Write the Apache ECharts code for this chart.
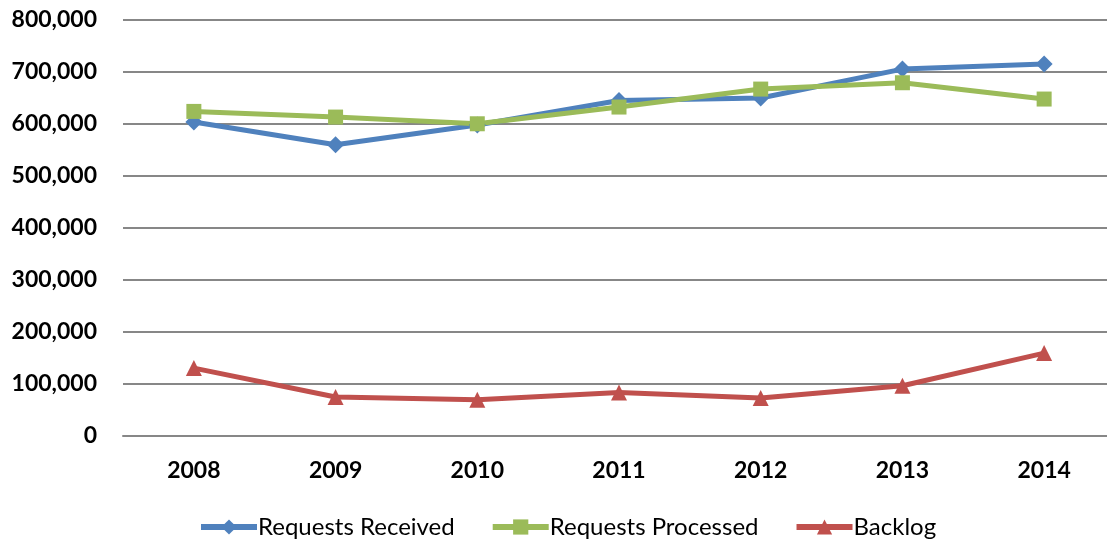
<!DOCTYPE html>
<html>
<head>
<meta charset="utf-8">
<script src="https://cdn.jsdelivr.net/npm/echarts@6/dist/echarts.min.js"></script>
<style>
  html, body { margin: 0; padding: 0; background: #fff; }
  #chart { width: 1107px; height: 540px; }
</style>
</head>
<body>
<div id="chart"></div>
<script>
const years = ["2008", "2009", "2010", "2011", "2012", "2013", "2014"];
const received = [603500, 559800, 598000, 645000, 649700, 705500, 715200];
const processed = [624000, 613100, 600200, 632400, 667000, 679200, 647800];
const backlog = [129800, 74000, 68700, 82800, 72000, 95700, 158700];

const font = "Lato, 'Open Sans', sans-serif";

function lineSeries(name, data, color, symbol, size) {
  return {
    name: name,
    type: "line",
    data: data,
    symbol: symbol,
    symbolSize: size,
    lineStyle: { color: color, width: 5 },
    itemStyle: { color: color },
    emphasis: { disabled: true },
    animation: false
  };
}

const chart = echarts.init(document.getElementById("chart"));
chart.setOption({
  backgroundColor: "#fff",
  grid: {
    left: 123, top: 20, width: 992, height: 415.5,
    containLabel: false, outerBoundsMode: "none"
  },
  legend: {
    top: 510,
    left: 193,
    itemWidth: 56,
    itemHeight: 19,
    itemGap: 35,
    lineStyle: { width: 6 },
    textStyle: { fontFamily: font, fontSize: 24, color: "#000", padding: [0, 0, 0, -4] },
    data: ["Requests Received", "Requests Processed", "Backlog"]
  },
  xAxis: {
    type: "category",
    data: years,
    axisLine: { show: true, lineStyle: { color: "#878787", width: 2 } },
    axisTick: { show: false },
    axisLabel: { fontFamily: font, fontWeight: "bold", fontSize: 23, color: "#000", margin: 24 }
  },
  yAxis: {
    type: "value",
    min: 0,
    max: 800000,
    interval: 100000,
    axisLine: { show: false },
    axisTick: { show: false },
    splitLine: { lineStyle: { color: "#878787", width: 2 } },
    axisLabel: {
      fontFamily: font,
      fontWeight: "bold",
      fontSize: 23,
      color: "#000",
      margin: 26,
      formatter: v => v.toLocaleString("en-US")
    }
  },
  series: [
    lineSeries("Requests Received", received, "#4F81BD", "diamond", 17),
    lineSeries("Requests Processed", processed, "#9BBB59", "rect", 15),
    lineSeries("Backlog", backlog, "#C0504D", "triangle", 16)
  ]
});
</script>
</body>
</html>
